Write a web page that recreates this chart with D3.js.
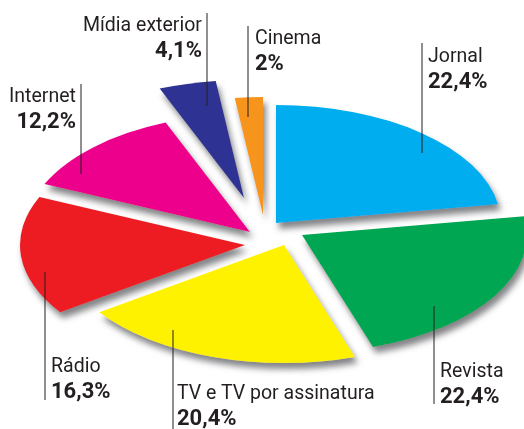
<!DOCTYPE html>
<html>
<head>
<meta charset="utf-8">
<script src="https://cdn.jsdelivr.net/npm/d3@7"></script>
<style>
  body { margin: 0; background: #fff; }
  text { font-family: Roboto, "Open Sans", sans-serif; fill: #231f20; }
</style>
</head>
<body>
<div id="chart"></div>
<script>
// data
const categories = ["Jornal", "Revista", "TV e TV por assinatura", "Rádio", "Internet", "Mídia exterior", "Cinema"];
const shares = [22.4, 22.4, 20.4, 16.3, 12.2, 4.1, 2];
const colors = ["#00aeef", "#00a651", "#fff200", "#ed1c24", "#ec008c", "#2e3192", "#f7941d"];

// layout
const width = 524, height = 429;
const center = {x: 265, y: 230};
const rx = 225, ry = 118;
// how far each slice is pulled out of the pie (px)
const offsets = [[11, -7], [37, 5], [19, 15], [-20, 15], [-15, 2], [-21, -32], [-2, -15]];
// label placement: name baseline x/y, anchor, leader line x, y1, y2
const labelLayout = [
    {x: 428, y: 62, anchor: "start", lx: 422, y1: 43, y2: 153},
    {x: 440, y: 377, anchor: "start", lx: 434, y1: 306, y2: 404},
    {x: 177, y: 399, anchor: "start", lx: 173, y1: 330, y2: 429},
    {x: 51, y: 372, anchor: "start", lx: 45, y1: 272, y2: 400},
    {x: 76, y: 102, anchor: "end", lx: 81, y1: 84, y2: 174},
    {x: 202, y: 31, anchor: "end", lx: 207, y1: 13, y2: 106},
    {x: 255, y: 44, anchor: "start", lx: 248, y1: 26, y2: 117}
];

const ptBR = d3.formatLocale({decimal: ",", thousands: ".", grouping: [3], currency: ["R$", ""]});
const fmt = v => ptBR.format(".1~f")(v) + "%";

const svg = d3.select("#chart").append("svg")
    .attr("width", width)
    .attr("height", height);

const defs = svg.append("defs");
const shadow = defs.append("filter")
    .attr("id", "shadow")
    .attr("x", "-20%").attr("y", "-20%")
    .attr("width", "140%").attr("height", "140%");
shadow.append("feDropShadow")
    .attr("dx", 3).attr("dy", 6)
    .attr("stdDeviation", 3)
    .attr("flood-color", "#6d6e71")
    .attr("flood-opacity", 0.85);

const pie = d3.pie().sort(null).value(d => d)(shares);
const arc = d3.arc().innerRadius(0).outerRadius(rx);

const slices = svg.append("g")
    .attr("filter", "url(#shadow)")
    .selectAll("g")
    .data(pie)
    .enter()
    .append("g")
    .attr("transform", (d, i) => "translate(" + (center.x + offsets[i][0]) + "," + (center.y + offsets[i][1]) + ")");

slices.append("path")
    .attr("d", arc)
    .attr("transform", "scale(1," + (ry / rx) + ")")
    .attr("fill", (d, i) => colors[i]);

// labels
const labels = svg.append("g")
    .selectAll("g")
    .data(categories)
    .enter()
    .append("g");

labels.append("line")
    .attr("x1", (d, i) => labelLayout[i].lx)
    .attr("x2", (d, i) => labelLayout[i].lx)
    .attr("y1", (d, i) => labelLayout[i].y1)
    .attr("y2", (d, i) => labelLayout[i].y2)
    .attr("stroke", "#231f20")
    .attr("stroke-width", 1);

labels.append("text")
    .attr("class", "name")
    .attr("x", (d, i) => labelLayout[i].x)
    .attr("y", (d, i) => labelLayout[i].y)
    .attr("text-anchor", (d, i) => labelLayout[i].anchor)
    .style("font-size", "21px")
    .text(d => d);

labels.append("text")
    .attr("class", "value")
    .attr("x", (d, i) => labelLayout[i].x)
    .attr("y", (d, i) => labelLayout[i].y + 26)
    .attr("text-anchor", (d, i) => labelLayout[i].anchor)
    .style("font-size", "22px")
    .style("font-weight", "bold")
    .text((d, i) => fmt(shares[i]));

// narrow the names a little, like the original condensed typeface
svg.selectAll("text.name").each(function() {
    const w = this.getComputedTextLength();
    d3.select(this).attr("textLength", w * 0.93).attr("lengthAdjust", "spacingAndGlyphs");
});
</script>
</body>
</html>
